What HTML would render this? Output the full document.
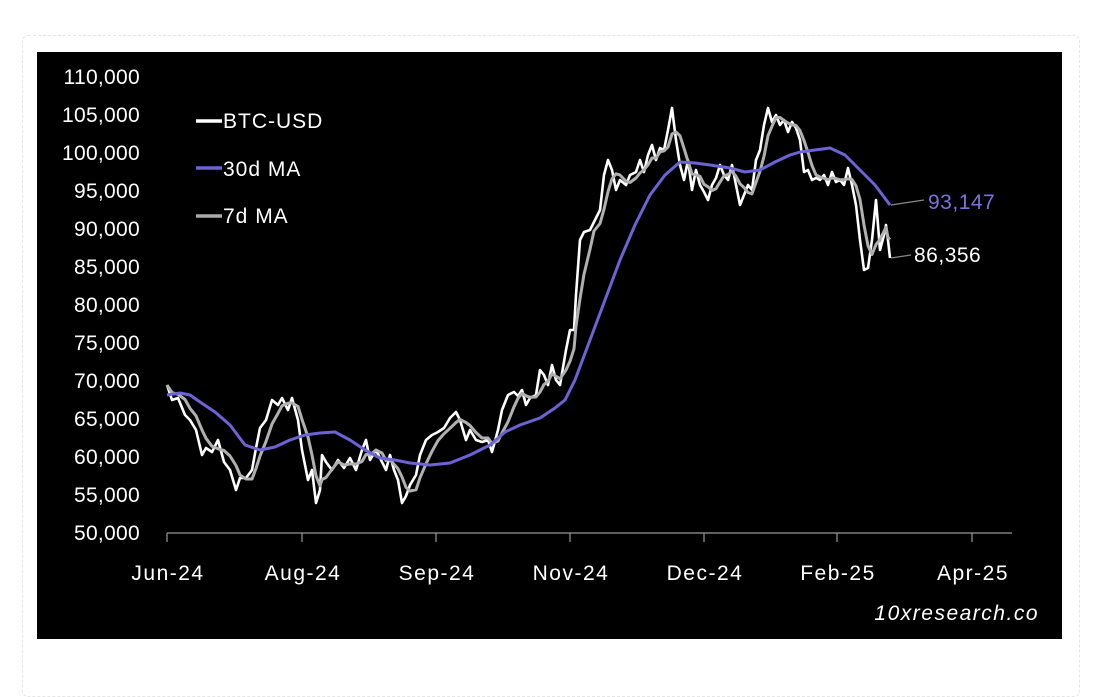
<!DOCTYPE html>
<html><head><meta charset="utf-8"><style>
html,body{margin:0;padding:0;background:#fff;}
body{width:1093px;height:679px;position:relative;overflow:hidden;font-family:"Liberation Sans",sans-serif;}
.card{position:absolute;left:22px;top:35px;width:1056px;height:660px;border:1px dashed #e6e6e6;border-radius:6px;}
svg{position:absolute;left:0;top:0;}
</style></head><body>
<div class="card"></div>
<svg width="1093" height="679" xmlns="http://www.w3.org/2000/svg">
<rect x="37" y="52" width="1025" height="587" fill="#000"/>
<g fill="#fff" font-size="21" letter-spacing="0.3" text-anchor="end" font-family="Liberation Sans,sans-serif">
<text x="140" y="84">110,000</text><text x="140" y="122">105,000</text><text x="140" y="160">100,000</text>
<text x="140" y="198">95,000</text><text x="140" y="236">90,000</text><text x="140" y="274">85,000</text>
<text x="140" y="312">80,000</text><text x="140" y="350">75,000</text><text x="140" y="388">70,000</text>
<text x="140" y="426">65,000</text><text x="140" y="464">60,000</text><text x="140" y="502">55,000</text>
<text x="140" y="540">50,000</text>
</g>
<line x1="167" y1="533" x2="1012" y2="533" stroke="#999" stroke-width="1.2"/>
<g stroke="#999" stroke-width="1.2">
<line x1="167" y1="533" x2="167" y2="542"/><line x1="302" y1="533" x2="302" y2="542"/><line x1="436" y1="533" x2="436" y2="542"/>
<line x1="570" y1="533" x2="570" y2="542"/><line x1="704" y1="533" x2="704" y2="542"/><line x1="837" y1="533" x2="837" y2="542"/><line x1="972" y1="533" x2="972" y2="542"/>
</g>
<g fill="#fff" font-size="21" letter-spacing="1.5" text-anchor="middle">
<text x="168" y="580">Jun-24</text><text x="303" y="580">Aug-24</text><text x="437" y="580">Sep-24</text>
<text x="571" y="580">Nov-24</text><text x="705" y="580">Dec-24</text><text x="838" y="580">Feb-25</text><text x="973" y="580">Apr-25</text>
</g>
<text x="1039" y="620" fill="#fff" font-size="21" letter-spacing="1.5" font-style="italic" text-anchor="end">10xresearch.co</text>
<g font-size="21" letter-spacing="1" fill="#fff">
<line x1="196" y1="121" x2="222" y2="121" stroke="#fff" stroke-width="3.5"/><text x="223" y="128">BTC-USD</text>
<line x1="196" y1="168" x2="222" y2="168" stroke="#6b63d6" stroke-width="3.5"/><text x="223" y="176">30d MA</text>
<line x1="196" y1="216" x2="222" y2="216" stroke="#aaa" stroke-width="3.5"/><text x="223" y="223">7d MA</text>
</g>
<polyline id="btc" fill="none" stroke="#fff" stroke-width="2.6" stroke-linejoin="round" points="167,385 172,400 178,398 185,415 190,420 196,430 202,455 206,448 212,452 218,440 224,462 230,470 236,490 240,478 246,478 252,470 256,448 260,428 266,420 272,400 278,405 282,398 288,410 292,398 298,420 302,450 308,480 312,470 316,503 320,490 322,455 326,462 332,470 338,460 344,468 350,458 356,470 362,450 366,440 370,460 376,450 382,462 386,470 390,455 394,470 398,480 402,503 406,496 410,485 416,475 420,455 426,440 432,435 438,432 444,428 450,418 456,412 460,420 466,440 470,430 476,440 482,442 488,440 492,452 498,430 502,410 508,395 514,392 518,396 522,390 526,405 530,398 536,395 540,370 544,375 548,385 552,365 556,380 560,385 566,350 570,330 574,330 576,295 580,240 584,232 590,230 594,222 600,210 604,175 608,160 612,170 616,190 620,180 626,185 630,175 636,172 640,160 644,172 648,155 652,145 656,160 660,148 664,150 668,130 672,108 676,140 680,165 684,180 688,160 692,190 696,170 700,185 704,192 708,200 712,185 716,178 720,165 724,175 728,180 732,165 736,185 740,205 744,195 748,185 752,190 756,160 760,150 764,125 768,108 772,122 776,115 780,125 784,120 788,132 792,122 796,128 800,140 804,172 808,170 812,180 816,178 820,180 824,175 828,185 832,172 836,182 840,180 844,185 848,168 852,185 856,205 860,240 864,270 868,268 872,240 876,200 880,250 884,235 886,225 888,240 890,258"/>
<polyline id="ma7" fill="none" stroke="#b0b0b0" stroke-width="3" stroke-linejoin="round" points=""/>
<polyline fill="none" stroke="#6b63d6" stroke-width="3" stroke-linejoin="round" points="167,395 180,393 190,395 200,402 215,412 230,425 245,445 260,450 275,447 290,440 305,435 320,433 335,432 350,440 365,450 380,458 395,460 410,463 430,465 450,463 470,455 490,445 505,432 520,425 540,418 555,408 565,400 575,380 590,340 605,300 620,260 635,225 650,195 665,175 680,162 695,163 710,165 730,168 745,172 760,170 775,162 790,155 800,152 815,150 830,148 845,155 860,170 875,185 890,205"/>
<line x1="891" y1="205" x2="924" y2="200" stroke="#888" stroke-width="1.2"/>
<line x1="891" y1="258" x2="911" y2="255" stroke="#888" stroke-width="1.2"/>
<text x="928" y="209" fill="#7a72e0" font-size="21" letter-spacing="0.5">93,147</text>
<text x="914" y="262" fill="#fff" font-size="21" letter-spacing="0.5">86,356</text>
</svg>
<script>
var p=document.getElementById('btc').getAttribute('points').trim().split(/\s+/).map(function(s){return s.split(',').map(Number);});
var out=[];
for(var i=0;i<p.length;i++){var s=0,n=0;for(var j=Math.max(0,i-3);j<=i;j++){s+=p[j][1];n++;}out.push(p[i][0]+','+(s/n).toFixed(1));}
document.getElementById('ma7').setAttribute('points',out.join(' '));
var m=document.getElementById('ma7');m.parentNode.insertBefore(m,document.getElementById('btc').nextSibling);
</script>
</body></html>
